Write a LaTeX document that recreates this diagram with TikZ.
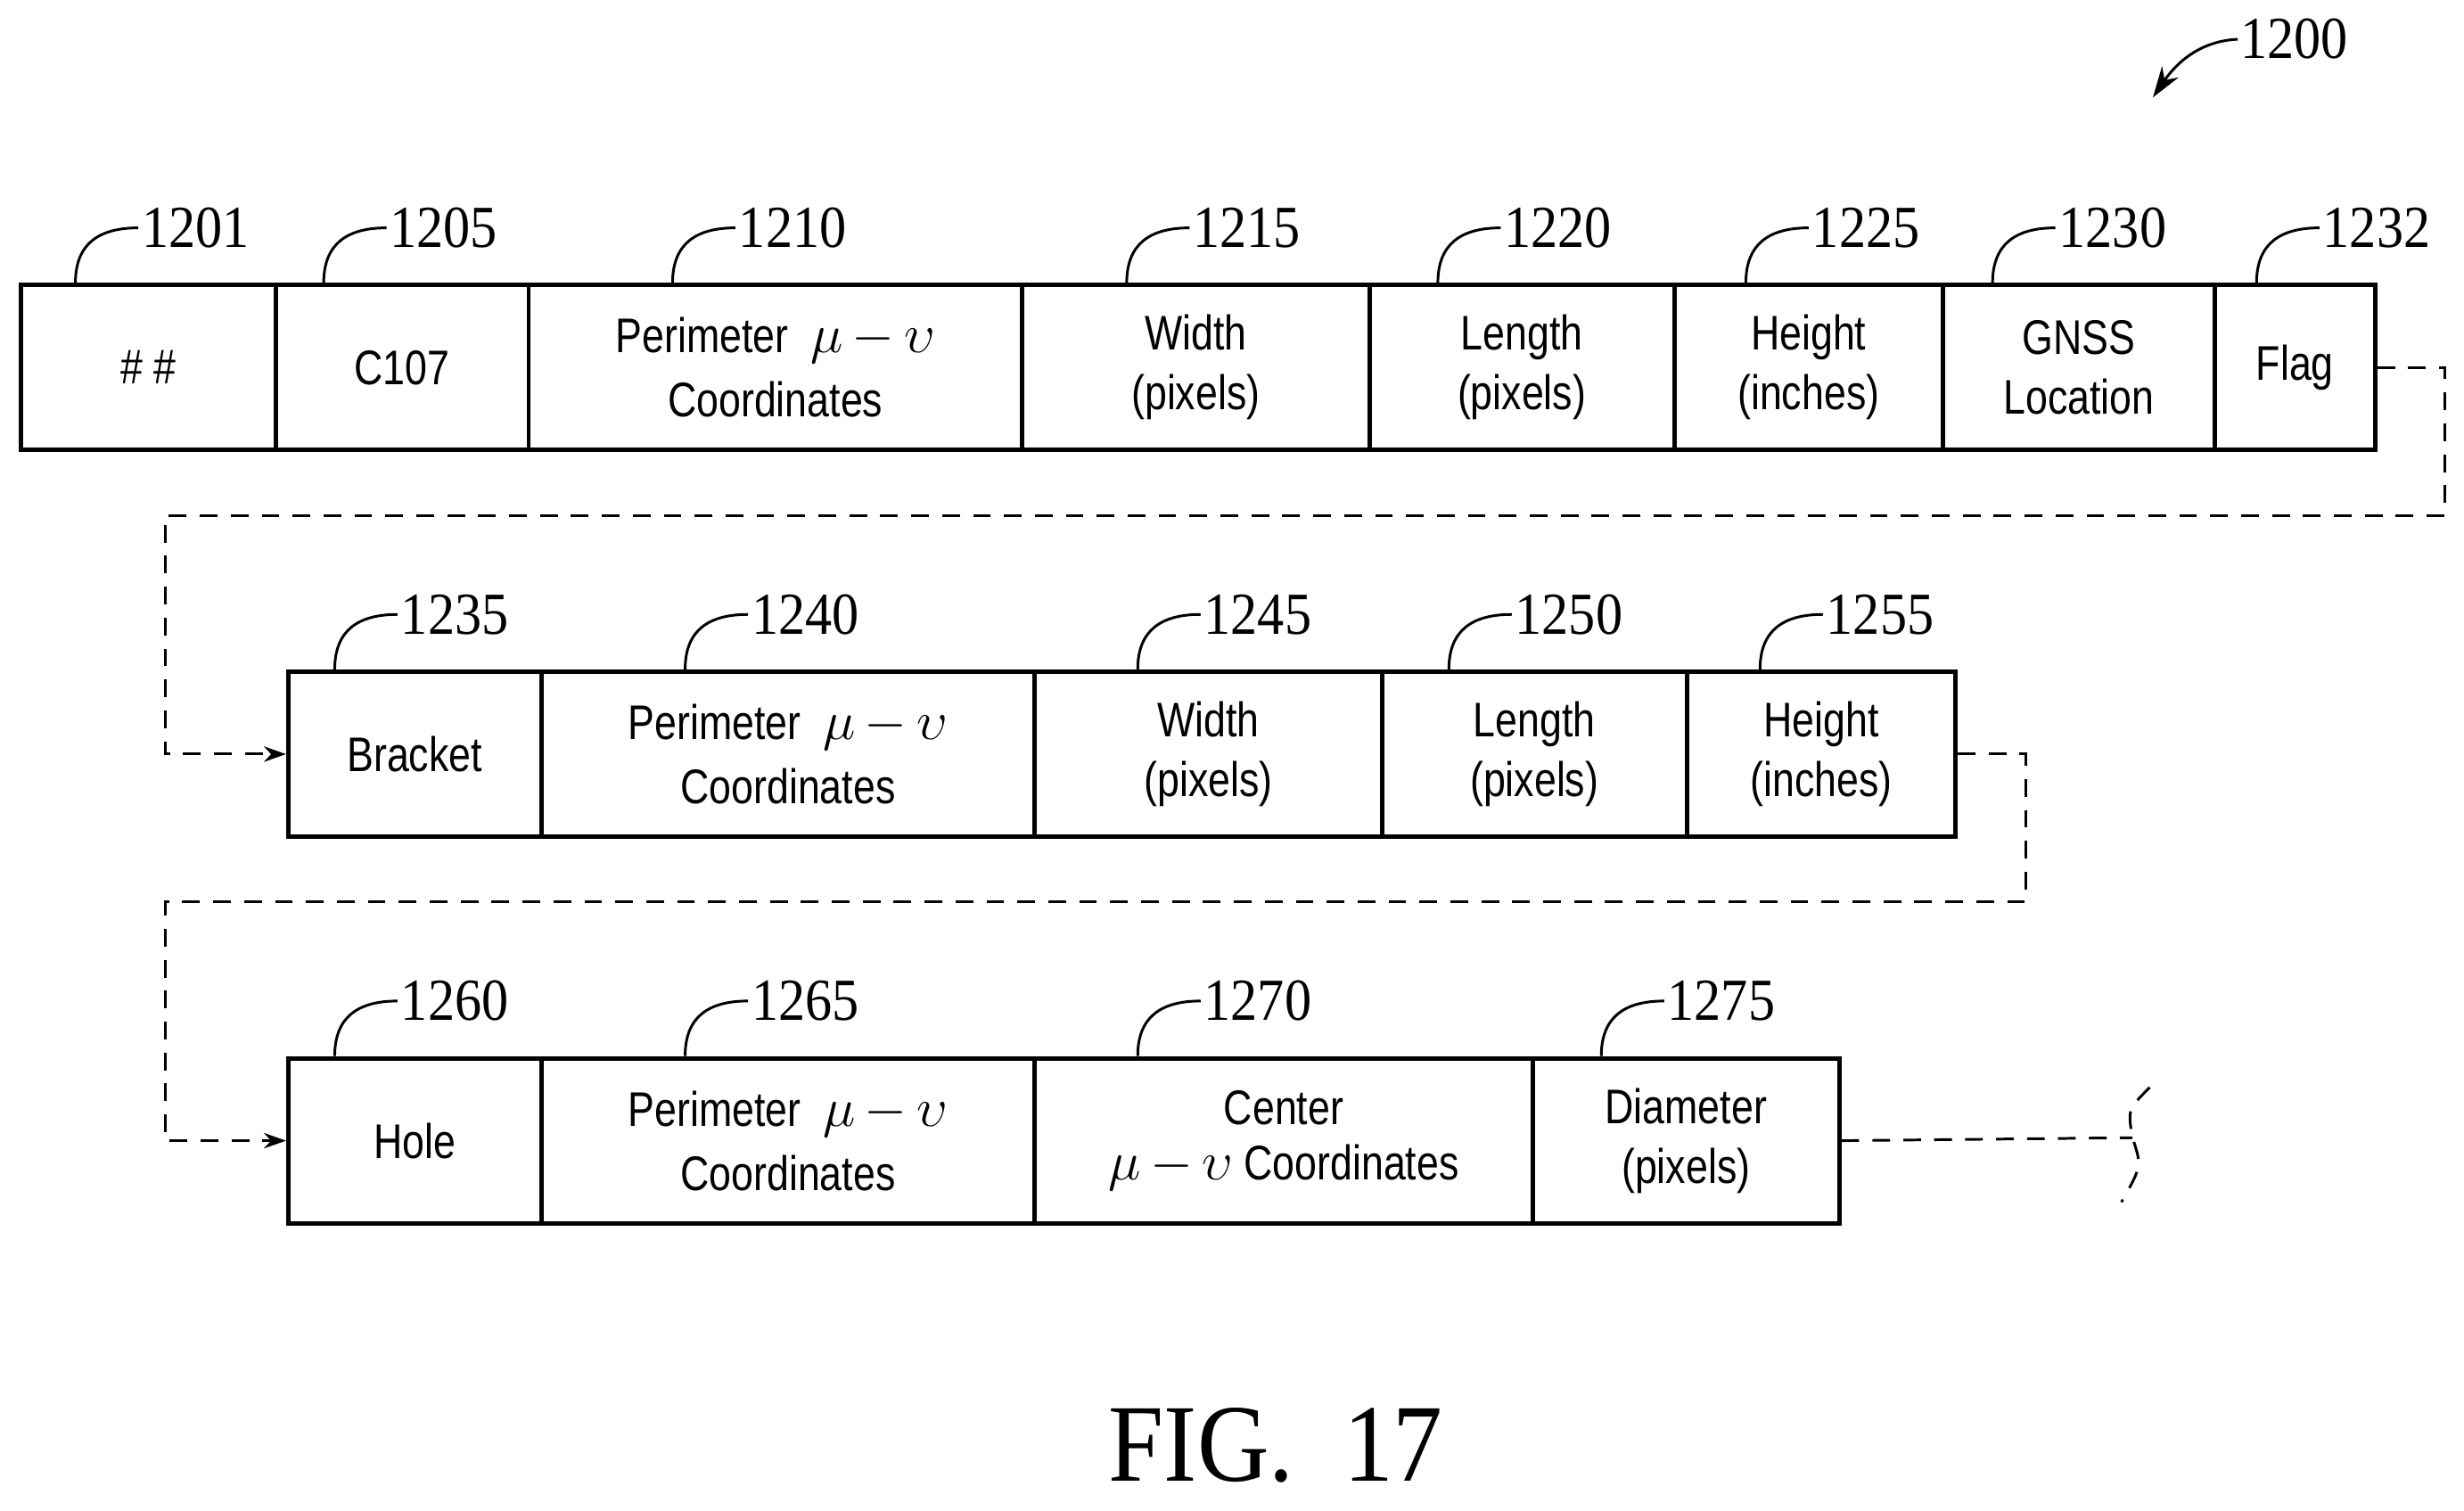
\documentclass[tikz,border=0pt]{standalone}
\usepackage{fontspec}
\setmainfont{Liberation Sans}[FakeStretch=0.82]
\newfontfamily\numfont{Liberation Serif}[FakeStretch=0.9]
\usetikzlibrary{arrows.meta}

\tikzset{
    cell/.style = {draw, line width = 2pt, minimum height = 26.25mm, inner sep = 0, align = center, anchor = north west,
        font = \fontsize{22}{27}\selectfont},
    num/.style = {font = \numfont\fontsize{27}{27}\selectfont, inner sep = 1pt},
    link/.style = {dashed, line width = 1.2pt, dash pattern = on 8pt off 6pt}
}
\newcommand{\mv}{{\fontsize{34}{34}\selectfont$\mu\,{-}\,\upsilon$}}
\newcommand{\leader}[3]{\draw[line width = 1.2pt] (#1,#2) .. controls +(0,-25) and +(-25,0) .. +(40,-35) node[num, anchor = west] {#3};}

\begin{document}
\begin{tikzpicture}[x = 0.25mm, y = -0.25mm]
    \useasboundingbox (0,0) rectangle (1568,961);

    % first record
    \node[cell, minimum width = 40.5mm] (n1) at (12,180) {\#\ \#};
    \node[cell, minimum width = 40.25mm] (n2) at (174,180) {C107};
    \node[cell, minimum width = 78.5mm] (n3) at (335,180) {Perimeter \ \mv\\[2pt] Coordinates};
    \node[cell, minimum width = 55.25mm] (n4) at (649,180) {Width\\(pixels)};
    \node[cell, minimum width = 48.5mm] (n5) at (870,180) {Length\\(pixels)};
    \node[cell, minimum width = 42.75mm] (n6) at (1064,180) {Height\\(inches)};
    \node[cell, minimum width = 43.25mm] (n7) at (1235,180) {GNSS\\Location};
    \node[cell, minimum width = 25.5mm] (n8) at (1408,180) {Flag};

    % second record
    \node[cell, minimum width = 40.25mm] (m1) at (182,426) {Bracket};
    \node[cell, minimum width = 78.5mm] (m2) at (343,426) {Perimeter \ \mv\\[2pt] Coordinates};
    \node[cell, minimum width = 55.25mm] (m3) at (657,426) {Width\\(pixels)};
    \node[cell, minimum width = 48.5mm] (m4) at (878,426) {Length\\(pixels)};
    \node[cell, minimum width = 42.75mm] (m5) at (1072,426) {Height\\(inches)};

    % third record
    \node[cell, minimum width = 40.25mm] (k1) at (182,672) {Hole};
    \node[cell, minimum width = 78.5mm] (k2) at (343,672) {Perimeter \ \mv\\[2pt] Coordinates};
    \node[cell, minimum width = 79.25mm] (k3) at (657,672) {Center\\[-2pt] \mv \ Coordinates};
    \node[cell, minimum width = 48.75mm] (k4) at (974,672) {Diameter\\(pixels)};

    % reference numerals
    \leader{48}{180}{1201}
    \leader{206}{180}{1205}
    \leader{428}{180}{1210}
    \leader{717}{180}{1215}
    \leader{915}{180}{1220}
    \leader{1111}{180}{1225}
    \leader{1268}{180}{1230}
    \leader{1436}{180}{1232}
    \leader{213}{426}{1235}
    \leader{436}{426}{1240}
    \leader{724}{426}{1245}
    \leader{922}{426}{1250}
    \leader{1120}{426}{1255}
    \leader{213}{672}{1260}
    \leader{436}{672}{1265}
    \leader{724}{672}{1270}
    \leader{1019}{672}{1275}

    \node[num, anchor = west] (fig) at (1424,25) {1200};
    \draw[line width = 1.2pt, -{Stealth[length = 14pt, width = 9pt]}] (fig.west) .. controls (1400,26) and (1385,40) .. (1370,62);

    % links between records
    \coordinate (a1) at (1556,328);
    \coordinate (a2) at (105,328);
    \coordinate (b1) at (1289,574);
    \coordinate (b2) at (105,574);
    \coordinate (c1) at (1357,724);
    \draw[link, -{Stealth[length = 10pt, width = 7pt]}] (n8.east) -| (a1) -- (a2) |- (m1.west);
    \draw[link, -{Stealth[length = 10pt, width = 7pt]}] (m5.east) -| (b1) -- (b2) |- (k1.west);
    \draw[link] (k4.east) -- (c1);
    \draw[link] (1368,692) .. controls (1354,706) .. (1357,724) .. controls (1363,742) .. (1350,765);

    \node[font = \numfont\fontsize{50}{50}\selectfont] (title) at (812,920) {FIG.\ \ 17};
\end{tikzpicture}
\end{document}
